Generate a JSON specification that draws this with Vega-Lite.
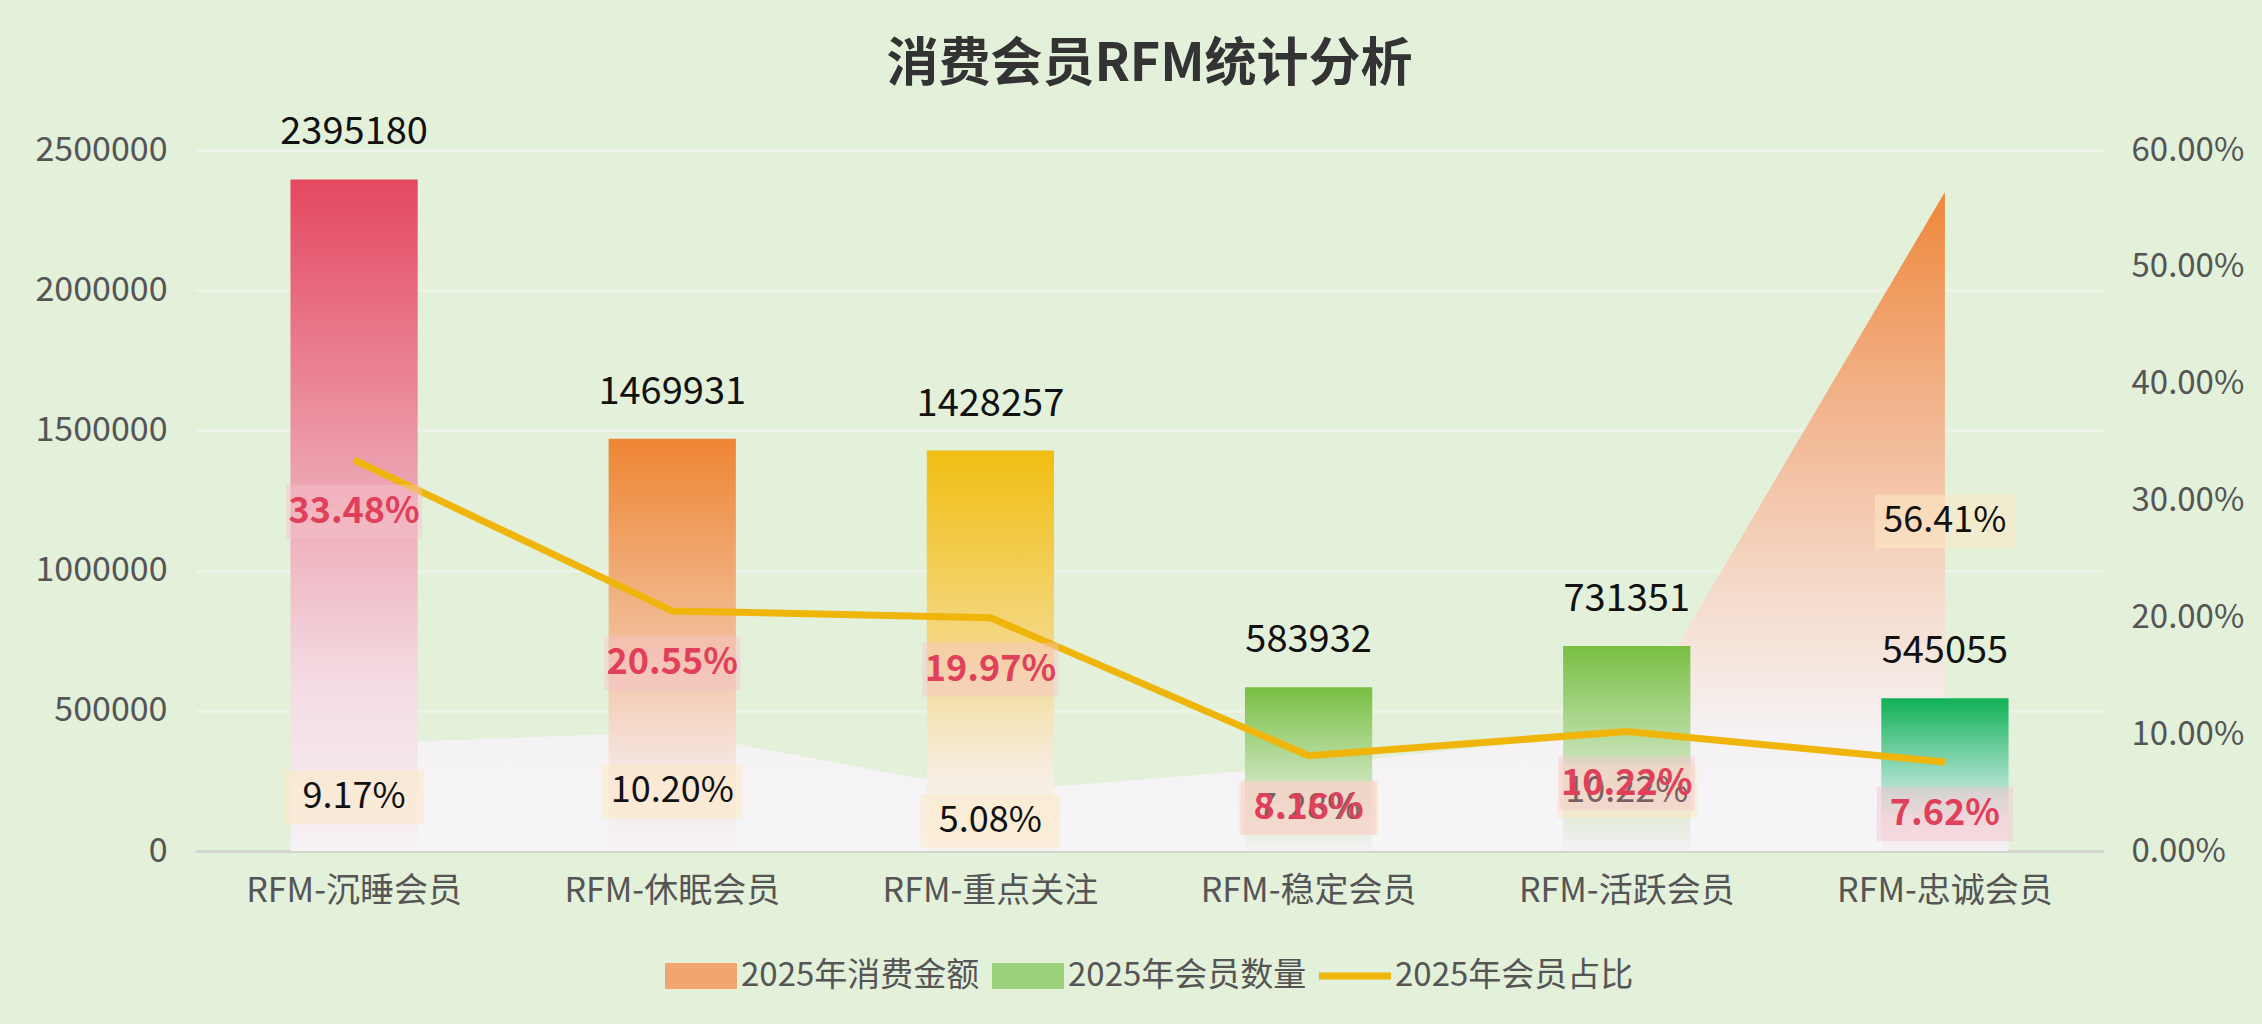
{
  "$schema": "https://vega.github.io/schema/vega-lite/v6.json",
  "width": 1909,
  "height": 701,
  "autosize": {"type": "none"},
  "padding": {"left": 195, "top": 150, "right": 158, "bottom": 173},
  "background": "#e3f0da",
  "title": {
    "text": "消费会员RFM统计分析",
    "fontSize": 52,
    "fontWeight": "bold",
    "color": "#333333",
    "anchor": "middle",
    "frame": "group",
    "offset": 22
  },
  "config": {
    "font": "Noto Sans CJK SC",
    "view": {"stroke": null},
    "legend": {
      "orient": "bottom",
      "direction": "horizontal",
      "labelFontSize": 33,
      "labelColor": "#555555",
      "labelLimit": 0,
      "symbolSize": 5184,
      "symbolStrokeWidth": 0,
      "columnPadding": 12,
      "labelOffset": 4,
      "offset": 32,
      "layout": {"bottom": {"anchor": "middle"}}
    }
  },
  "datasets": {
    "rfm": [
      {"cat": "RFM-沉睡会员", "count": 2395180, "memShare": 0.3348, "amtShare": 0.0917},
      {"cat": "RFM-休眠会员", "count": 1469931, "memShare": 0.2055, "amtShare": 0.1020},
      {"cat": "RFM-重点关注", "count": 1428257, "memShare": 0.1997, "amtShare": 0.0508},
      {"cat": "RFM-稳定会员", "count": 583932, "memShare": 0.0816, "amtShare": 0.0728},
      {"cat": "RFM-活跃会员", "count": 731351, "memShare": 0.1022, "amtShare": 0.1022},
      {"cat": "RFM-忠诚会员", "count": 545055, "memShare": 0.0762, "amtShare": 0.5641}
    ],
    "legend": [
      {"series": "2025年消费金额"},
      {"series": "2025年会员数量"},
      {"series": "2025年会员占比"}
    ]
  },
  "data": {"name": "rfm"},
  "encoding": {
    "x": {
      "field": "cat",
      "type": "nominal",
      "sort": null,
      "scale": {
        "domain": ["RFM-沉睡会员", "RFM-休眠会员", "RFM-重点关注", "RFM-稳定会员", "RFM-活跃会员", "RFM-忠诚会员"],
        "paddingInner": 0,
        "paddingOuter": 0
      },
      "axis": {
        "title": null,
        "labelAngle": 0,
        "labelFontSize": 34,
        "labelLimit": 0,
        "labelColor": "#555555",
        "labelPadding": 23,
        "ticks": false,
        "domain": true,
        "domainColor": "#d2d6cf",
        "domainWidth": 3,
        "grid": false
      }
    }
  },
  "layer": [
    {
      "mark": {
        "type": "area",
        "line": false,
        "color": {
          "gradient": "linear",
          "x1": 0, "y1": 0, "x2": 0, "y2": 1,
          "stops": [
            {"offset": 0, "color": "#ee873a"},
            {"offset": 0.35, "color": "#f2b793"},
            {"offset": 0.62, "color": "#f5dccd"},
            {"offset": 0.82, "color": "#f5f2f3"},
            {"offset": 1, "color": "#f5f5f8"}
          ]
        }
      },
      "encoding": {
        "y": {
          "field": "amtShare",
          "type": "quantitative",
          "scale": {"domain": [0, 0.6]},
          "axis": {
            "orient": "right",
            "title": null,
            "values": [0, 0.1, 0.2, 0.3, 0.4, 0.5, 0.6],
            "format": ".2%",
            "labelFontSize": 33,
            "labelColor": "#555555",
            "labelPadding": 27,
            "ticks": false,
            "domain": false,
            "grid": false
          }
        }
      }
    },
    {
      "encoding": {
        "y": {
          "field": "count",
          "type": "quantitative",
          "scale": {"domain": [0, 2500000]},
          "axis": {
            "orient": "left",
            "title": null,
            "values": [0, 500000, 1000000, 1500000, 2000000, 2500000],
            "format": "d",
            "labelFontSize": 34,
            "labelColor": "#555555",
            "labelPadding": 28,
            "ticks": false,
            "domain": false,
            "grid": true,
            "gridColor": "#edf4e7",
            "gridWidth": 3
          }
        }
      },
      "layer": [
        {
          "transform": [{"filter": {"field": "cat", "equal": "RFM-沉睡会员"}}],
          "mark": {"type": "bar", "width": {"band": 0.4}, "color": {"gradient": "linear", "x1": 0, "y1": 0, "x2": 0, "y2": 1, "stops": [{"offset": 0, "color": "#e4485f"}, {"offset": 0.45, "color": "#eda3b1"}, {"offset": 0.75, "color": "#f4dbe2"}, {"offset": 1, "color": "#f6f2f6"}]}}
        },
        {
          "transform": [{"filter": {"field": "cat", "equal": "RFM-休眠会员"}}],
          "mark": {"type": "bar", "width": {"band": 0.4}, "color": {"gradient": "linear", "x1": 0, "y1": 0, "x2": 0, "y2": 1, "stops": [{"offset": 0, "color": "#ee8532"}, {"offset": 0.5, "color": "#f2bf9a"}, {"offset": 0.8, "color": "#f5e6e3"}, {"offset": 1, "color": "#f6f3f5"}]}}
        },
        {
          "transform": [{"filter": {"field": "cat", "equal": "RFM-重点关注"}}],
          "mark": {"type": "bar", "width": {"band": 0.4}, "color": {"gradient": "linear", "x1": 0, "y1": 0, "x2": 0, "y2": 1, "stops": [{"offset": 0, "color": "#f1be12"}, {"offset": 0.5, "color": "#f4d987"}, {"offset": 0.8, "color": "#f6ede0"}, {"offset": 1, "color": "#f6f3f4"}]}}
        },
        {
          "transform": [{"filter": {"field": "cat", "equal": "RFM-稳定会员"}}],
          "mark": {"type": "bar", "width": {"band": 0.4}, "color": {"gradient": "linear", "x1": 0, "y1": 0, "x2": 0, "y2": 1, "stops": [{"offset": 0, "color": "#78bf43"}, {"offset": 0.55, "color": "#c6e2b4"}, {"offset": 1, "color": "#f4f2f4"}]}}
        },
        {
          "transform": [{"filter": {"field": "cat", "equal": "RFM-活跃会员"}}],
          "mark": {"type": "bar", "width": {"band": 0.4}, "color": {"gradient": "linear", "x1": 0, "y1": 0, "x2": 0, "y2": 1, "stops": [{"offset": 0, "color": "#78bf43"}, {"offset": 0.55, "color": "#c6e2b4"}, {"offset": 1, "color": "#f4f1f3"}]}}
        },
        {
          "transform": [{"filter": {"field": "cat", "equal": "RFM-忠诚会员"}}],
          "mark": {"type": "bar", "width": {"band": 0.4}, "color": {"gradient": "linear", "x1": 0, "y1": 0, "x2": 0, "y2": 1, "stops": [{"offset": 0, "color": "#10b055"}, {"offset": 0.55, "color": "#a9e0cc"}, {"offset": 0.8, "color": "#f0e6ea"}, {"offset": 1, "color": "#f5f1f4"}]}}
        },
        {
          "mark": {"type": "text", "fontSize": 38, "color": "#111111", "baseline": "middle", "dy": -46},
          "encoding": {"text": {"field": "count", "type": "quantitative", "format": "d"}}
        }
      ]
    },
    {
      "encoding": {
        "y": {
          "field": "amtShare",
          "type": "quantitative",
          "scale": {"domain": [0, 1.2]},
          "axis": null
        }
      },
      "layer": [
        {
          "mark": {"type": "point", "filled": true, "opacity": 0.55, "size": 40000, "color": "#fde9c4", "strokeWidth": 0, "shape": "M-0.7,-0.27H0.7V0.27H-0.7Z"}
        },
        {
          "mark": {"type": "text", "fontSize": 36, "color": "#111111", "baseline": "middle"},
          "encoding": {"text": {"field": "amtShare", "type": "quantitative", "format": ".2%"}}
        }
      ]
    },
    {
      "encoding": {
        "y": {
          "field": "memShare",
          "type": "quantitative",
          "scale": {"domain": [0, 0.6]},
          "axis": null
        }
      },
      "layer": [
        {
          "mark": {"type": "line", "color": "#f0b50b", "strokeWidth": 7, "strokeJoin": "round"}
        },
        {
          "mark": {"type": "point", "filled": true, "opacity": 0.45, "size": 40000, "color": "#f7c3cd", "strokeWidth": 0, "shape": "M-0.68,0.25H0.68V0.79H-0.68Z"}
        },
        {
          "mark": {"type": "text", "fontSize": 36, "fontWeight": "bold", "color": "#e0405a", "baseline": "middle", "dy": 52},
          "encoding": {"text": {"field": "memShare", "type": "quantitative", "format": ".2%"}}
        },
        {
          "data": {"name": "legend"},
          "mark": {"type": "point", "filled": true, "opacity": 1},
          "encoding": {
            "y": {"field": "nope", "type": "quantitative"},
            "color": {
              "field": "series",
              "type": "nominal",
              "scale": {
                "domain": ["2025年消费金额", "2025年会员数量", "2025年会员占比"],
                "range": ["#f2a56e", "#9dd27c", "#f0b50b"]
              },
              "legend": {"title": null}
            },
            "shape": {
              "field": "series",
              "type": "nominal",
              "scale": {
                "domain": ["2025年消费金额", "2025年会员数量", "2025年会员占比"],
                "range": ["M-1,-0.36H1V0.36H-1Z", "M-1,-0.36H1V0.36H-1Z", "M-1,-0.1H1V0.1H-1Z"]
              },
              "legend": {"title": null}
            }
          }
        }
      ]
    }
  ],
  "resolve": {"scale": {"y": "independent"}}
}
